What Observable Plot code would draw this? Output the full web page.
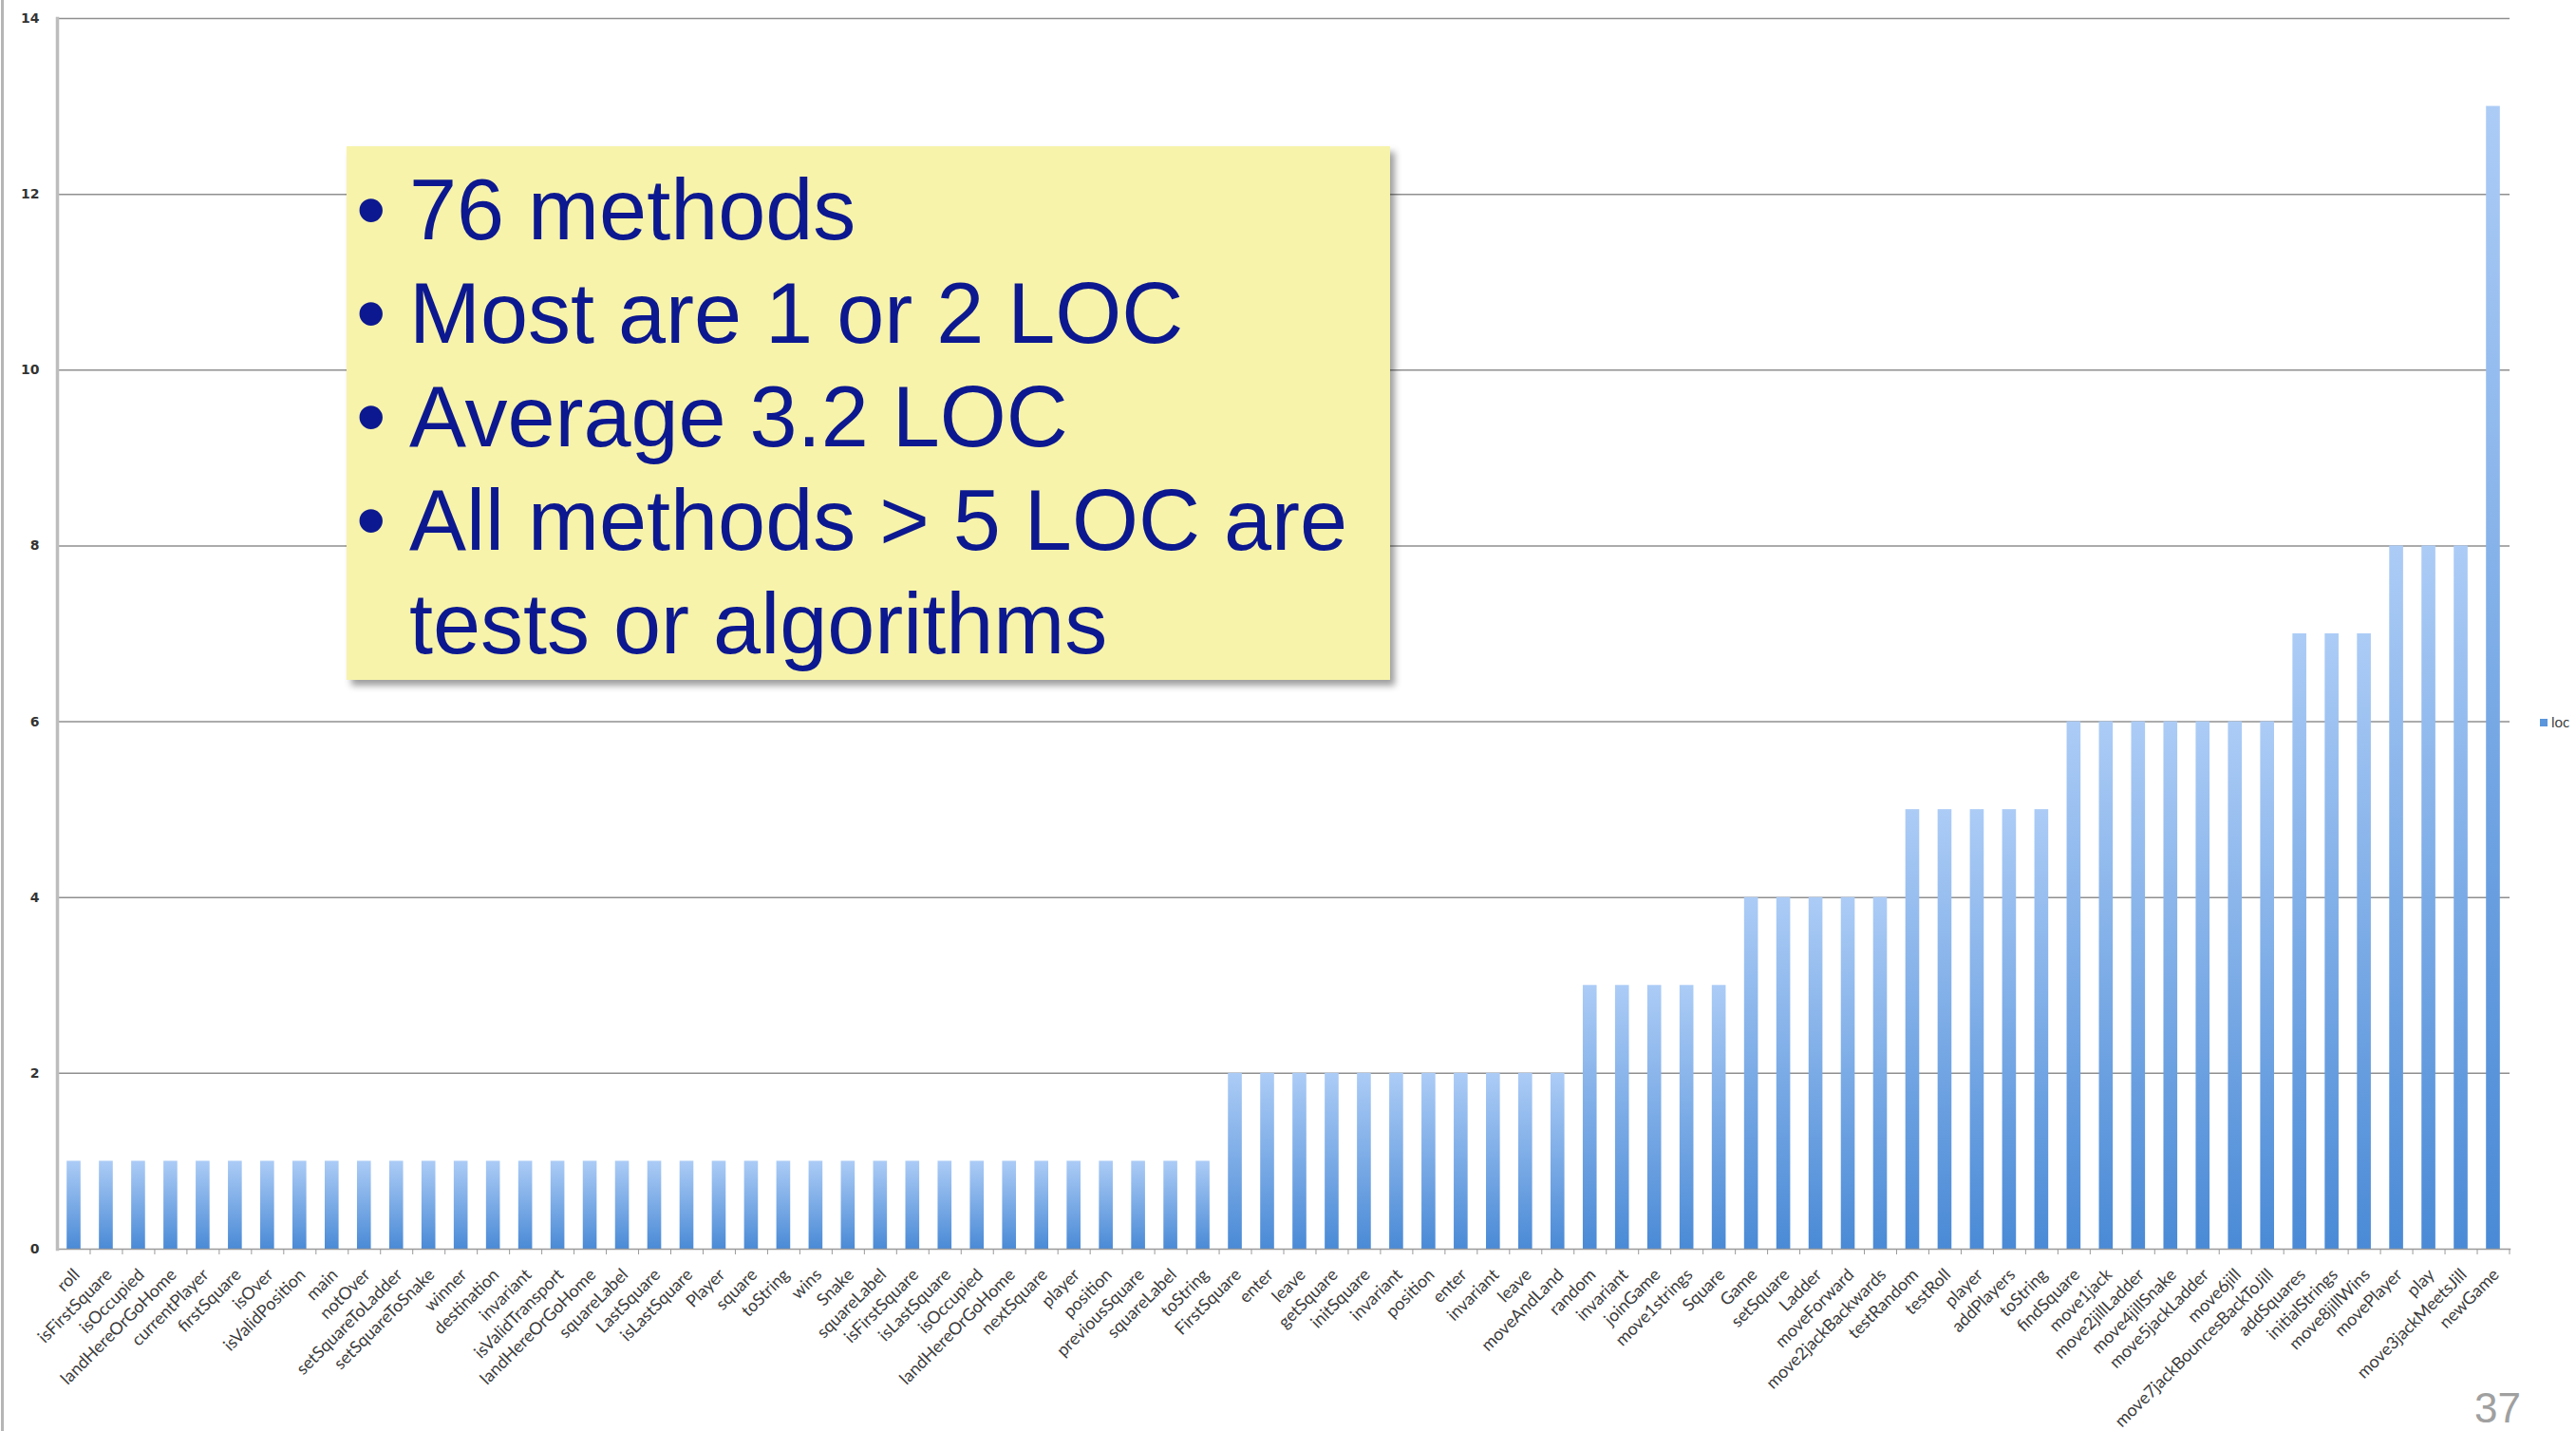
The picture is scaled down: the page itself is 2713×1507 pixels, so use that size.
<!DOCTYPE html>
<html>
<head>
<meta charset="utf-8">
<script src="https://cdn.jsdelivr.net/npm/d3@7"></script>
<script src="https://cdn.jsdelivr.net/npm/@observablehq/plot@0.6"></script>
<style>
  html, body { margin: 0; padding: 0; background: #fff; }
  #page { position: relative; width: 2713px; height: 1507px; overflow: hidden; background: #fff; }
  #page::before { content: ""; position: absolute; left: 1px; top: 0; width: 3px; height: 1507px; background: #b5b5b5; }
  #chart { position: absolute; left: 0; top: 0; }
  #box { position: absolute; left: 365px; top: 154px; width: 1099px; height: 562px; background: #f7f3aa;
         box-shadow: 5px 6px 7px rgba(0,0,0,0.38); font-family: "Liberation Sans", Arial, sans-serif;
         font-size: 90px; line-height: 109px; color: #0c1890; box-sizing: border-box; padding-top: 13px; }
  #box .ln { position: relative; padding-left: 66px; white-space: nowrap; }
  #box .bul { position: absolute; left: 10px; top: 0; }
  #legend { position: absolute; left: 2675px; top: 751px; font-family: Lato, sans-serif; font-size: 15px; line-height: 18px; color: #404040; white-space: nowrap; }
  #legend .sw { display: inline-block; width: 8px; height: 8px; background: #5b95dc; margin-right: 4px; vertical-align: 1px; }
  #pnum { position: absolute; right: 58px; top: 1463px; font-family: "Liberation Sans", Arial, sans-serif; font-size: 44px; line-height: 40px; color: #a0a0a0; }
</style>
</head>
<body>
<svg width="0" height="0" style="position:absolute">
  <defs>
    <linearGradient id="barGrad" x1="0" y1="0" x2="0" y2="1">
      <stop offset="0" stop-color="#acccf6"/>
      <stop offset="1" stop-color="#4a8ad6"/>
    </linearGradient>
  </defs>
</svg>
<div id="page">
  <div id="chart"></div>
  <div id="box"></div>
  <div id="legend"><span class="sw"></span>loc</div>
  <div id="pnum">37</div>
</div>
<script>
const methods = [
  "roll","isFirstSquare","isOccupied","landHereOrGoHome","currentPlayer","firstSquare","isOver","isValidPosition",
  "main","notOver","setSquareToLadder","setSquareToSnake","winner","destination","invariant","isValidTransport",
  "landHereOrGoHome","squareLabel","LastSquare","isLastSquare","Player","square","toString","wins","Snake",
  "squareLabel","isFirstSquare","isLastSquare","isOccupied","landHereOrGoHome","nextSquare","player","position",
  "previousSquare","squareLabel","toString","FirstSquare","enter","leave","getSquare","initSquare","invariant",
  "position","enter","invariant","leave","moveAndLand","random","invariant","joinGame","move1strings","Square",
  "Game","setSquare","Ladder","moveForward","move2jackBackwards","testRandom","testRoll","player","addPlayers",
  "toString","findSquare","move1jack","move2jillLadder","move4jillSnake","move5jackLadder","move6jill",
  "move7jackBouncesBackToJill","addSquares","initialStrings","move8jillWins","movePlayer","play",
  "move3jackMeetsJill","newGame"
];
const loc = [
  1,1,1,1,1,1,1,1,1,1,1,1,1,1,1,1,1,1,1,1,1,1,1,1,1,1,1,1,1,1,1,1,1,1,1,1,
  2,2,2,2,2,2,2,2,2,2,2,
  3,3,3,3,3,
  4,4,4,4,4,
  5,5,5,5,5,
  6,6,6,6,6,6,6,
  7,7,7,
  8,8,8,
  13
];
const yTicks = [0,2,4,6,8,10,12,14];
const seriesName = "loc";
const bullets = ["76 methods", "Most are 1 or 2 LOC", "Average 3.2 LOC", "All methods > 5 LOC are", "tests or algorithms"];

const W = 2713, H = 1507, mL = 60, mR = 70, mT = 19, mB = 192;
const pIn = 0.57, pOut = 0.3;
const idx = d3.range(methods.length);
const step = (W - mL - mR) / (idx.length - pIn + 2 * pOut);

const chart = Plot.plot({
  width: W, height: H,
  marginLeft: mL, marginRight: mR, marginTop: mT, marginBottom: mB,
  x: { type: "band", domain: idx, paddingInner: pIn, paddingOuter: pOut },
  y: { domain: [0, 14] },
  style: { background: "transparent", fontFamily: "Lato, sans-serif", overflow: "visible" },
  marks: [
    Plot.gridY(yTicks.filter(d => d > 0), { stroke: "#8f8f8f", strokeOpacity: 1, strokeWidth: 1.5 }),
    Plot.barY(idx, { x: i => i, y: i => loc[i], fill: "url(#barGrad)" }),
    Plot.frame({ anchor: "bottom", stroke: "#9a9a9a", strokeWidth: 1.5 }),
    Plot.frame({ anchor: "left", stroke: "#bdbdbd", strokeWidth: 3.5 }),
    Plot.axisY(yTicks, { tickSize: 0, tickPadding: 19, fontSize: 14, fontWeight: "bold",
      tickFormat: d => String(d), fontFamily: "DejaVu Sans, sans-serif", fill: "#333", label: null }),
    Plot.axisX(idx, { tickSize: 6, tickFormat: () => "", dx: step / 2, stroke: "#9a9a9a", label: null }),
    Plot.axisX(idx, { tickSize: 0, tickPadding: 24, tickRotate: -45, dx: 3, tickFormat: i => methods[i],
      fontSize: 18, fill: "#3c3c3c", label: null })
  ]
});
document.getElementById("chart").appendChild(chart);

const box = d3.select("#box");
bullets.forEach((t, k) => {
  const ln = box.append("div").attr("class", "ln");
  if (k < 4) ln.append("span").attr("class", "bul").text("•");
  ln.append("span").text(t);
});
</script>
</body>
</html>
